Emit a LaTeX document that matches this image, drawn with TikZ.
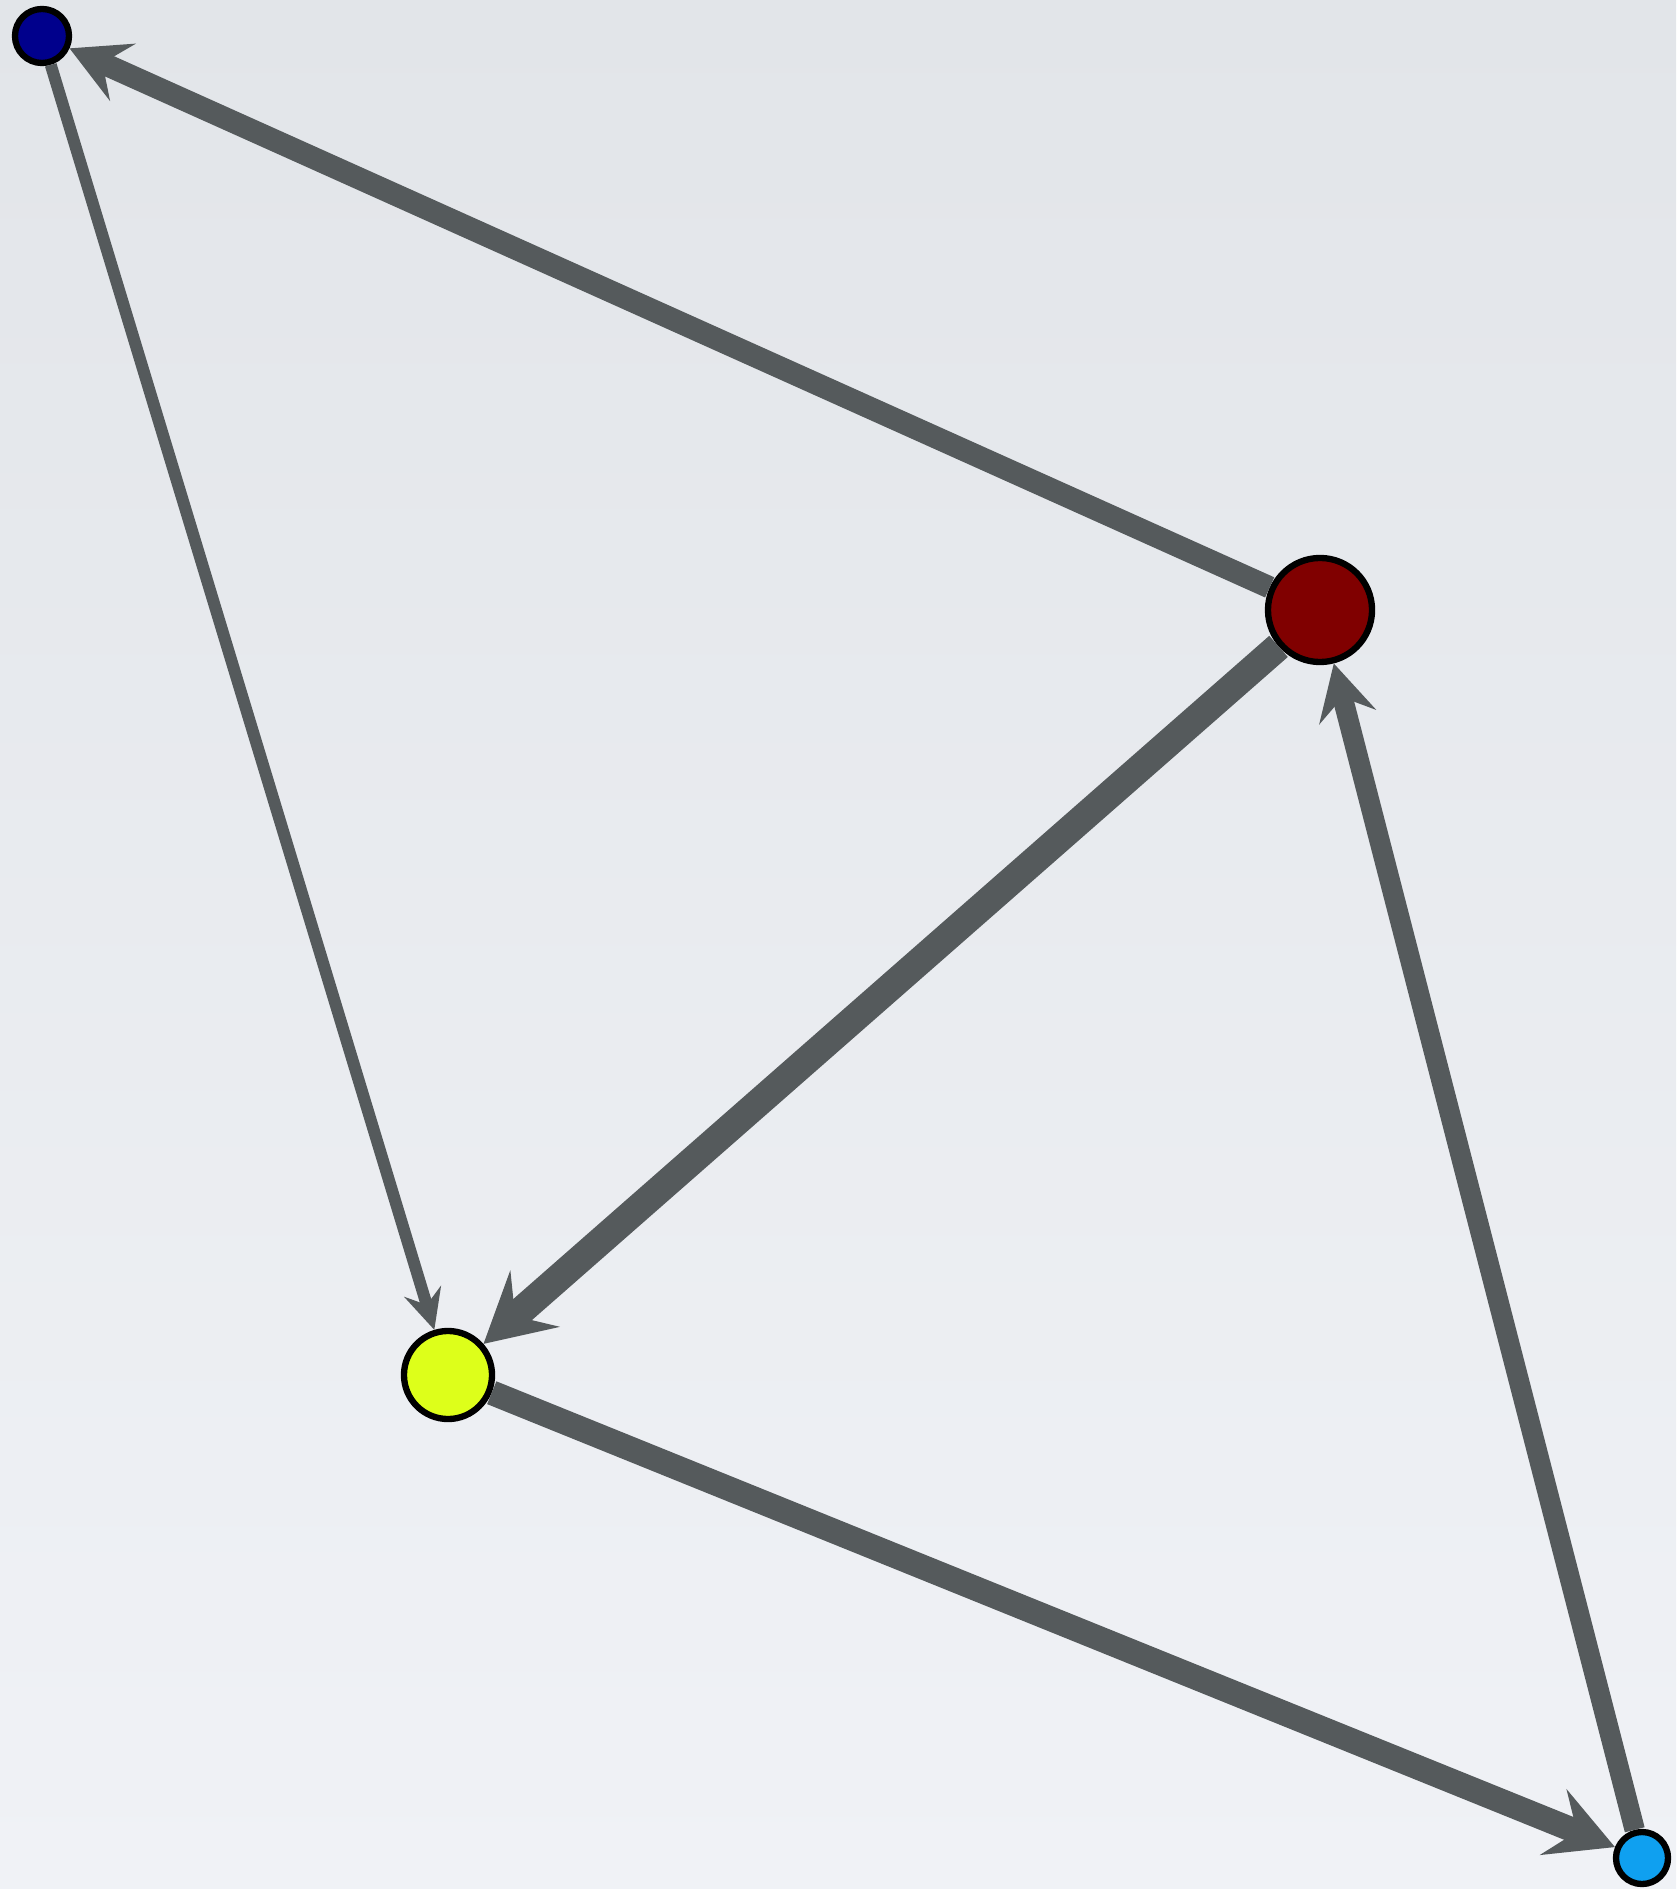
\documentclass[tikz,border=0pt]{standalone}
\usepackage{tikz}
\usetikzlibrary{arrows.meta}

\definecolor{bgtop}{RGB}{226,229,233}
\definecolor{bgbot}{RGB}{240,242,246}
\definecolor{edgegray}{RGB}{85,90,92}
\definecolor{navyfill}{RGB}{0,0,140}
\definecolor{maroonfill}{RGB}{128,0,0}
\definecolor{limefill}{RGB}{221,255,26}
\definecolor{skyfill}{RGB}{15,160,240}

\tikzset{
  vertex/.style={circle, draw=black, line width=1.8pt, inner sep=0pt},
  link/.style={draw=edgegray, line cap=butt},
}

\begin{document}
\begin{tikzpicture}[x=0.01cm, y=-0.01cm]

% Background
\shade[top color=bgtop, bottom color=bgbot] (0,0) rectangle (1676,1889);
\useasboundingbox (0,0) rectangle (1676,1889);

% Vertices
\node[vertex, fill=navyfill, minimum size=0.54cm] (navy) at (42,36) {};
\node[vertex, fill=maroonfill, minimum size=1.04cm] (maroon) at (1320,610) {};
\node[vertex, fill=limefill, minimum size=0.88cm] (lime) at (448,1375) {};
\node[vertex, fill=skyfill, minimum size=0.52cm] (sky) at (1642,1858) {};

% Edges
\draw[link, line width=3.4pt,
  -{Stealth[length=0.4cm, width=0.38cm, inset=0.14cm]}] (navy) -- (lime);
\draw[link, line width=6.3pt,
  -{Stealth[length=0.58cm, width=0.62cm, inset=0.22cm]}] (maroon) -- (navy);
\draw[link, line width=8pt,
  -{Stealth[length=0.68cm, width=0.74cm, inset=0.26cm]}] (maroon) -- (lime);
\draw[link, line width=7pt,
  -{Stealth[length=0.66cm, width=0.7cm, inset=0.25cm]}] (lime) -- (sky);
\draw[link, line width=5.8pt,
  -{Stealth[length=0.55cm, width=0.58cm, inset=0.2cm]}] (sky) -- (maroon);

\end{tikzpicture}
\end{document}
